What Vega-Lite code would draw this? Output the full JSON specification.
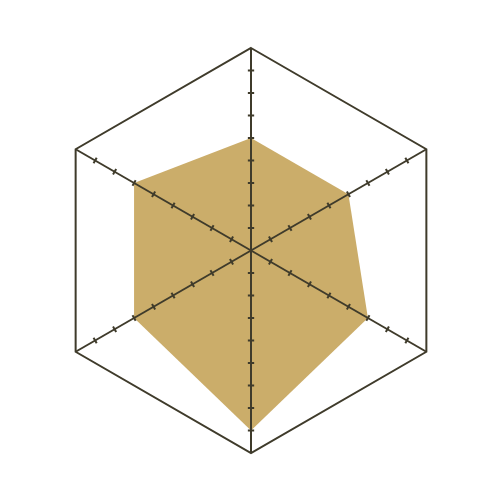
{
  "$schema": "https://vega.github.io/schema/vega-lite/v6.json",
  "width": 500,
  "height": 500,
  "autosize": "none",
  "padding": 0,
  "background": "white",
  "config": {"view": {"stroke": null}},
  "datasets": {
    "spokes": [
      {"axis": "A", "angle": 90, "value": 5, "max": 9, "order": 0, "ticks": [1,2,3,4,5,6,7,8]},
      {"axis": "B", "angle": 30, "value": 5, "max": 9, "order": 1, "ticks": [1,2,3,4,5,6,7,8]},
      {"axis": "C", "angle": -30, "value": 6, "max": 9, "order": 2, "ticks": [1,2,3,4,5,6,7,8]},
      {"axis": "D", "angle": -90, "value": 8, "max": 9, "order": 3, "ticks": [1,2,3,4,5,6,7,8]},
      {"axis": "E", "angle": -150, "value": 6, "max": 9, "order": 4, "ticks": [1,2,3,4,5,6,7,8]},
      {"axis": "F", "angle": 150, "value": 6, "max": 9, "order": 5, "ticks": [1,2,3,4,5,6,7,8]}
    ]
  },
  "data": {"name": "spokes"},
  "transform": [
    {"calculate": "datum.angle * PI / 180", "as": "rad"},
    {"calculate": "datum.value * cos(datum.rad)", "as": "vx"},
    {"calculate": "datum.value * sin(datum.rad)", "as": "vy"},
    {"calculate": "datum.max * cos(datum.rad)", "as": "mx"},
    {"calculate": "datum.max * sin(datum.rad)", "as": "my"},
    {"calculate": "0", "as": "zero"}
  ],
  "layer": [
    {
      "mark": {"type": "line", "interpolate": "linear-closed", "fill": "#CBAD6A", "stroke": null, "strokeWidth": 0},
      "encoding": {
        "x": {"field": "vx", "type": "quantitative", "scale": {"domain": [-11.156, 11.067], "nice": false, "zero": false}, "axis": null},
        "y": {"field": "vy", "type": "quantitative", "scale": {"domain": [-11.089, 11.133], "nice": false, "zero": false}, "axis": null},
        "order": {"field": "order", "type": "quantitative"}
      }
    },
    {
      "mark": {"type": "line", "interpolate": "linear-closed", "stroke": "#3F3B2B", "strokeWidth": 2},
      "encoding": {
        "x": {"field": "mx", "type": "quantitative"},
        "y": {"field": "my", "type": "quantitative"},
        "order": {"field": "order", "type": "quantitative"}
      }
    },
    {
      "mark": {"type": "rule", "stroke": "#3F3B2B", "strokeWidth": 2},
      "encoding": {
        "x": {"field": "zero", "type": "quantitative"},
        "y": {"field": "zero", "type": "quantitative"},
        "x2": {"field": "mx"},
        "y2": {"field": "my"}
      }
    },
    {
      "transform": [
        {"flatten": ["ticks"]},
        {"calculate": "datum.ticks * cos(datum.rad) - 0.14 * sin(datum.rad)", "as": "tx1"},
        {"calculate": "datum.ticks * sin(datum.rad) + 0.14 * cos(datum.rad)", "as": "ty1"},
        {"calculate": "datum.ticks * cos(datum.rad) + 0.14 * sin(datum.rad)", "as": "tx2"},
        {"calculate": "datum.ticks * sin(datum.rad) - 0.14 * cos(datum.rad)", "as": "ty2"}
      ],
      "mark": {"type": "rule", "stroke": "#3F3B2B", "strokeWidth": 2},
      "encoding": {
        "x": {"field": "tx1", "type": "quantitative"},
        "y": {"field": "ty1", "type": "quantitative"},
        "x2": {"field": "tx2"},
        "y2": {"field": "ty2"}
      }
    }
  ]
}
